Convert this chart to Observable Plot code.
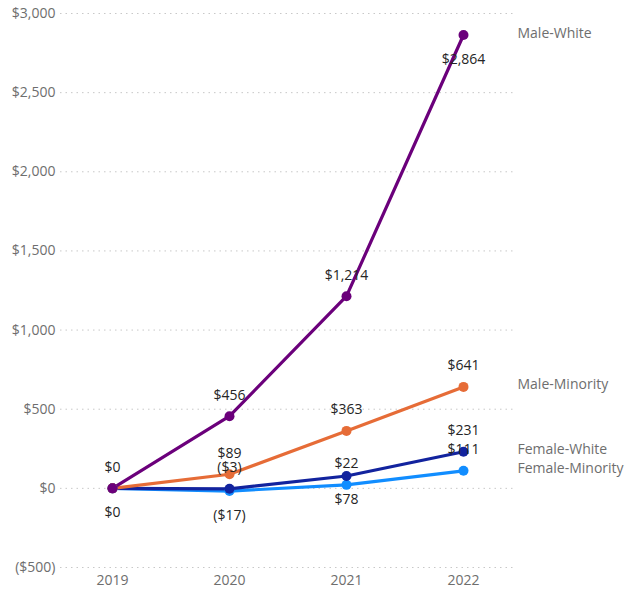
<!DOCTYPE html>
<html>
<head>
<meta charset="utf-8">
<script src="https://cdn.jsdelivr.net/npm/d3@7"></script>
<script src="https://cdn.jsdelivr.net/npm/@observablehq/plot@0.6"></script>
<style>
  html, body { margin: 0; padding: 0; background: #fff; }
  #chart svg { display: block; font-family: "Segoe UI", "Open Sans", sans-serif; }
</style>
</head>
<body>
<div id="chart"></div>
<script>
const years = ["2019", "2020", "2021", "2022"];
const seriesNames = ["Female-Minority", "Female-White", "Male-Minority", "Male-White"];
const femaleMinority = [0, -17, 22, 111];
const femaleWhite = [0, -3, 78, 231];
const maleMinority = [0, 89, 363, 641];
const maleWhite = [0, 456, 1214, 2864];
const seriesColors = ["#118DFF", "#12239E", "#E66C37", "#6B007B"];
const yTicks = [-500, 0, 500, 1000, 1500, 2000, 2500, 3000];

// label placement per series/year: "a" above, "b" below, "" hidden
const placement = {
  "Female-Minority": ["", "b", "a", "a"],
  "Female-White": ["", "a", "b", "a"],
  "Male-Minority": ["b", "a", "a", "a"],
  "Male-White": ["a", "a", "a", "b"]
};

const valuesBySeries = [femaleMinority, femaleWhite, maleMinority, maleWhite];
const data = [];
seriesNames.forEach((s, i) => {
  years.forEach((y, j) => {
    data.push({series: s, year: y, value: valuesBySeries[i][j], place: placement[s][j]});
  });
});

const money = v => v < 0 ? `($${d3.format(",")(-v)})` : `$${d3.format(",")(v)}`;

const color = {domain: seriesNames, range: seriesColors};

const chart = Plot.plot({
  width: 628,
  height: 592,
  marginLeft: 60,
  marginRight: 113,
  marginTop: 13,
  marginBottom: 25,
  style: {fontSize: "14px", fontFamily: "'Segoe UI', 'Open Sans', sans-serif"},
  x: {type: "point", domain: years, padding: 0.44, label: null},
  y: {domain: [-500, 3000], label: null, ticks: yTicks},
  color,
  marks: [
    Plot.gridY(yTicks, {stroke: "#c8c8c8", strokeOpacity: 1, strokeDasharray: "1.5,4", strokeWidth: 1}),
    Plot.axisY(yTicks, {tickSize: 0, tickPadding: 5, tickFormat: money, color: "#6e6e6e", fontSize: 14}),
    Plot.axisX({tickSize: 0, tickPadding: 8, color: "#6e6e6e", fontSize: 14}),
    Plot.line(data, {x: "year", y: "value", z: "series", stroke: "series", strokeWidth: 3.2}),
    Plot.dot(data, {x: "year", y: "value", fill: "series", r: 5}),
    Plot.text(data.filter(d => d.place === "a"), {x: "year", y: "value", text: d => money(d.value), dy: -21, fill: "#252525", fontSize: 14}),
    Plot.text(data.filter(d => d.place === "b"), {x: "year", y: "value", text: d => money(d.value), dy: 24, fill: "#252525", fontSize: 14}),
    Plot.text(data.filter(d => d.year === "2022"), {x: "year", y: "value", text: "series", dx: 54, dy: -2, textAnchor: "start", fill: "#6e6e6e", fontSize: 14})
  ]
});
document.getElementById("chart").appendChild(chart);
</script>
</body>
</html>
